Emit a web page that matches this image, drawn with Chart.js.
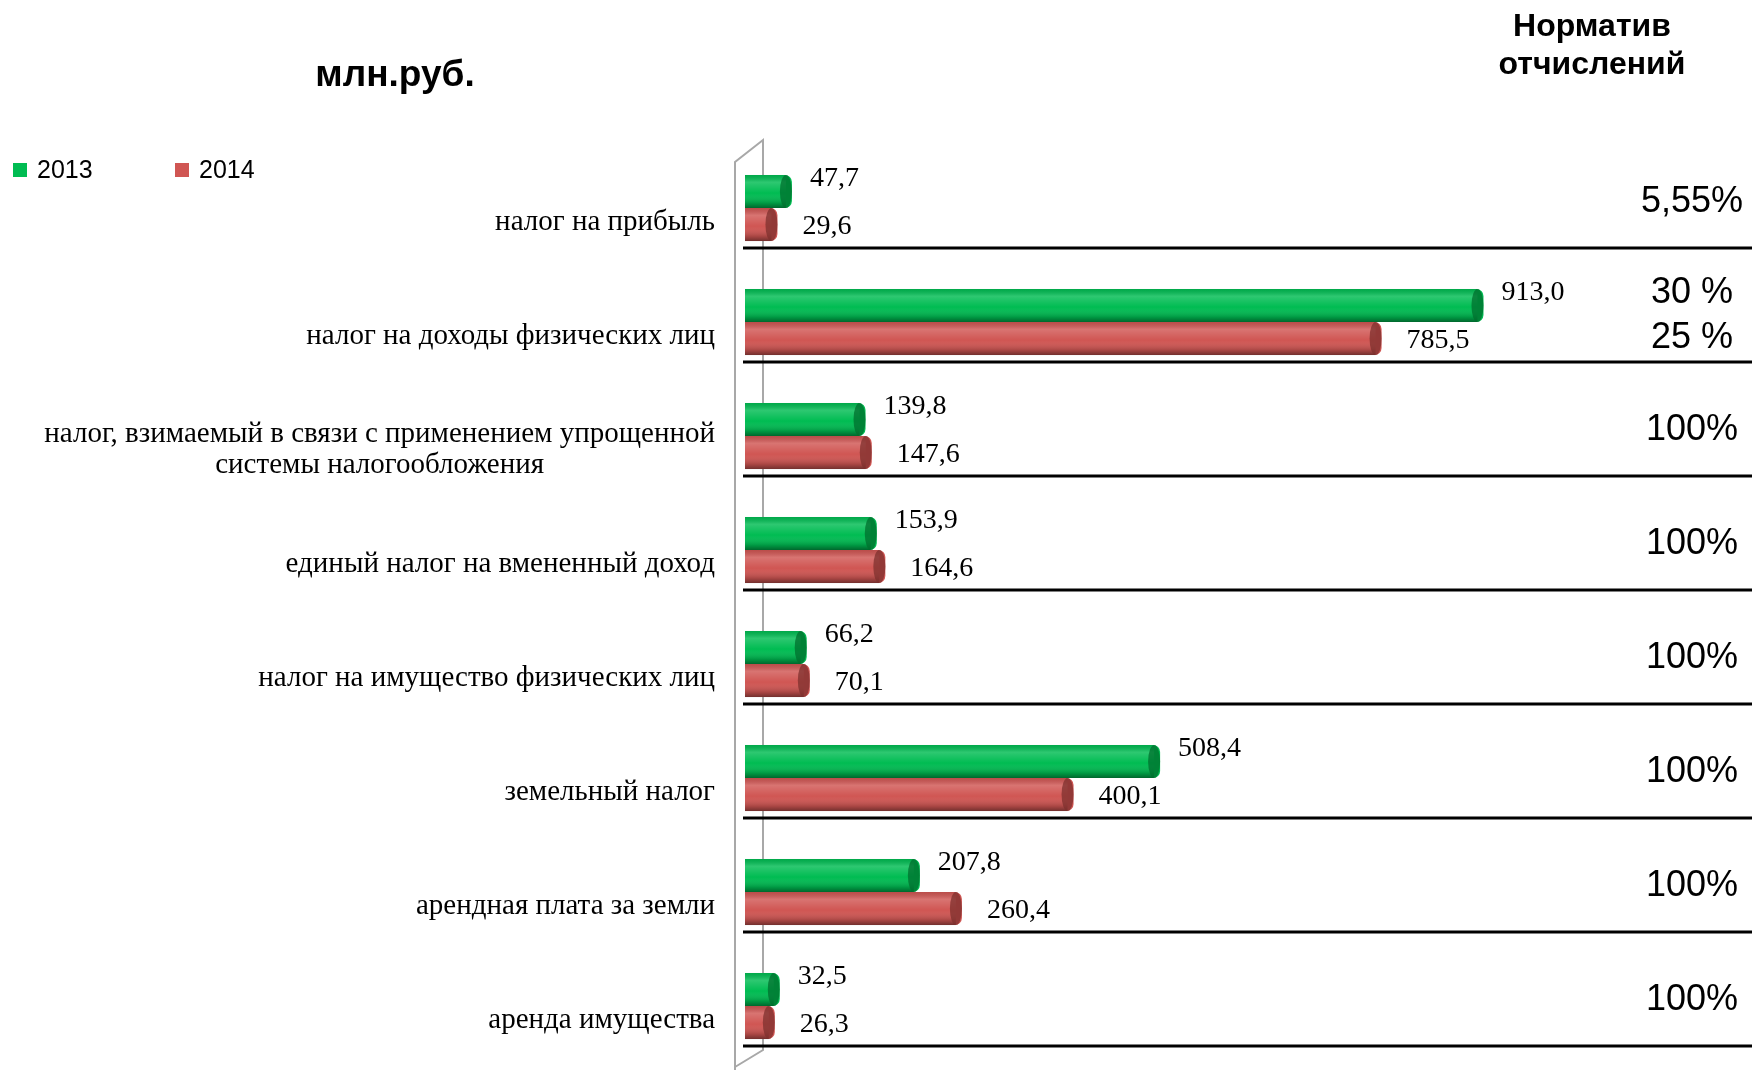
<!DOCTYPE html>
<html>
<head>
<meta charset="utf-8">
<script src="https://cdn.jsdelivr.net/npm/chart.js@4.4.1/dist/chart.umd.min.js"></script>
<style>
html,body{margin:0;padding:0;background:#fff;}
#wrap{width:1752px;height:1070px;position:relative;}
</style>
</head>
<body>
<div id="wrap"><canvas id="taxChart" width="1752" height="1070"></canvas></div>
<script>
// ---------------- DATA ----------------
const categories = [
    "налог на прибыль",
    "налог на доходы физических лиц",
    ["налог, взимаемый в связи с применением упрощенной", "системы налогообложения"],
    "единый налог на вмененный доход",
    "налог на имущество физических лиц",
    "земельный налог",
    "арендная плата за земли",
    "аренда имущества"
];
const seriesNames = ["2013", "2014"];
const values2013 = [47.7, 913.0, 139.8, 153.9, 66.2, 508.4, 207.8, 32.5];
const values2014 = [29.6, 785.5, 147.6, 164.6, 70.1, 400.1, 260.4, 26.3];
const norms = ["5,55%", ["30 %", "25 %"], "100%", "100%", "100%", "100%", "100%", "100%"];
const valueMin = -11;   // the 3d bars start a bit inside the wall
const valueMax = 1000;

// ---------------- STYLE ----------------
const green = "#00bc52";
const red = "#d05653";
const greenDark = "#006f2e";
const redDark = "#7e302e";

function fmt(v){
    return v.toFixed(1).replace(".", ",");
}

// ---------------- DECORATIONS ----------------
const decor = {
    id: "decor",
    beforeDatasetsDraw(chart){
        const c = chart.ctx;
        const a = chart.chartArea;
        // 3d wall on the left
        c.save();
        c.strokeStyle = "#a8a8a8";
        c.lineWidth = 2;
        const fx = a.left - 10, bx = a.left + 18;
        c.beginPath();
        c.moveTo(fx, 1070); c.lineTo(fx, a.top + 11);
        c.lineTo(bx, a.top - 11); c.lineTo(bx, a.bottom - 13);
        c.lineTo(fx, a.bottom + 4);
        c.stroke();
        c.restore();
    },
    afterDatasetsDraw(chart){
        const c = chart.ctx;
        const a = chart.chartArea;
        const yScale = chart.scales.y;

        // cylinder shading + end caps
        chart.data.datasets.forEach((ds, di) => {
            const meta = chart.getDatasetMeta(di);
            meta.data.forEach((bar) => {
                const h = bar.height;
                const top = bar.y - h / 2;
                const g = c.createLinearGradient(0, top, 0, top + h);
                g.addColorStop(0, "rgba(0,0,0,0.10)");
                g.addColorStop(0.22, "rgba(255,255,255,0.18)");
                g.addColorStop(0.55, "rgba(255,255,255,0)");
                g.addColorStop(0.85, "rgba(0,0,0,0.18)");
                g.addColorStop(1, "rgba(0,0,0,0.45)");
                c.save();
                c.fillStyle = g;
                c.fillRect(bar.base, top, bar.x - bar.base - 6, h);
                const rx = 6;
                c.beginPath();
                c.ellipse(bar.x - rx, bar.y, rx, h / 2, 0, 0, Math.PI * 2);
                c.fillStyle = di === 0 ? greenDark : redDark;
                c.globalAlpha = 0.75;
                c.fill();
                c.restore();
            });
        });

        // value labels
        c.save();
        c.font = "28px 'Liberation Serif'";
        c.fillStyle = "#000";
        c.textBaseline = "middle";
        c.textAlign = "left";
        chart.data.datasets.forEach((ds, di) => {
            const meta = chart.getDatasetMeta(di);
            meta.data.forEach((bar, i) => {
                const dx = di === 0 ? 18 : 25;
                const dy = di === 0 ? -13 : 2;
                c.fillText(fmt(ds.data[i]), bar.x + dx, bar.y + dy);
            });
        });
        c.restore();

        // separators, category labels, norms
        c.save();
        categories.forEach((cat, i) => {
            const cy = yScale.getPixelForValue(i);
            c.strokeStyle = "#000";
            c.lineWidth = 3;
            c.beginPath();
            c.moveTo(a.left - 2, cy + 40);
            c.lineTo(chart.width, cy + 40);
            c.stroke();

            c.fillStyle = "#000";
            c.textBaseline = "middle";
            c.font = "29px 'Liberation Serif'";
            const lines = Array.isArray(cat) ? cat : [cat];
            const right = a.left - 30;
            let maxW = 0;
            lines.forEach(l => { maxW = Math.max(maxW, c.measureText(l).width); });
            c.textAlign = "center";
            const lh = 31;
            lines.forEach((l, k) => {
                const ly = cy + 14 + (k - (lines.length - 1) / 2) * lh;
                c.fillText(l, right - maxW / 2, ly);
            });

            c.font = "36px 'Liberation Sans'";
            const nl = Array.isArray(norms[i]) ? norms[i] : [norms[i]];
            nl.forEach((l, k) => {
                const ny = cy - 6 + (k - (nl.length - 1) / 2) * 45;
                c.fillText(l, 1692, ny);
            });
        });
        c.restore();

        // legend
        c.save();
        c.font = "25px 'Liberation Sans'";
        c.textBaseline = "middle";
        c.textAlign = "left";
        const lx = [13, 175];
        chart.data.datasets.forEach((ds, di) => {
            c.fillStyle = ds.backgroundColor;
            c.fillRect(lx[di], 163, 14, 14);
            c.fillStyle = "#000";
            c.fillText(ds.label, lx[di] + 24, 171);
        });
        c.restore();

        // titles
        c.save();
        c.fillStyle = "#000";
        c.textAlign = "center";
        c.textBaseline = "middle";
        c.font = "bold 37px 'Liberation Sans'";
        c.fillText("млн.руб.", 395, 76);
        c.font = "bold 32px 'Liberation Sans'";
        c.fillText("Норматив", 1592, 27);
        c.fillText("отчислений", 1592, 65);
        c.restore();
    }
};

// ---------------- CHART ----------------
const ctx = document.getElementById("taxChart");

const chart = new Chart(ctx, {
    type: "bar",
    data: {
        labels: categories,
        datasets: [
            {
                label: seriesNames[0],
                data: values2013,
                base: valueMin,
                backgroundColor: green,
                borderRadius: {topRight: 7, bottomRight: 7},
                borderSkipped: "start"
            },
            {
                label: seriesNames[1],
                data: values2014,
                base: valueMin,
                backgroundColor: red,
                borderRadius: {topRight: 7, bottomRight: 7},
                borderSkipped: "start"
            }
        ]
    },
    options: {
        indexAxis: "y",
        responsive: false,
        animation: false,
        categoryPercentage: 0.58,
        barPercentage: 1.0,
        layout: {
            padding: {left: 745, right: 199, top: 151, bottom: 7}
        },
        plugins: {
            legend: {display: false},
            tooltip: {enabled: false}
        },
        scales: {
            x: {
                display: false,
                min: valueMin,
                max: valueMax
            },
            y: {
                display: false
            }
        }
    },
    plugins: [decor]
});
</script>
</body>
</html>
